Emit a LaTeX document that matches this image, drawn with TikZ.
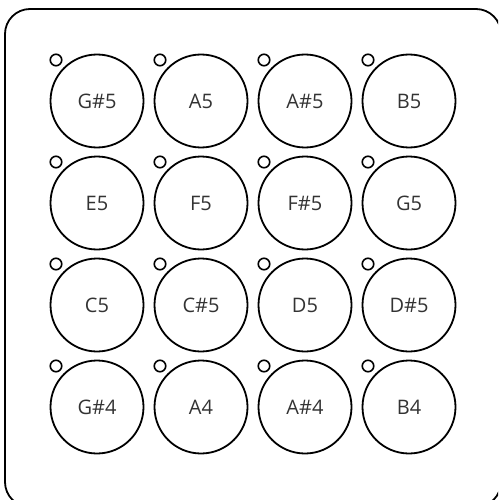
\documentclass[tikz,border=0pt]{standalone}
\usepackage{fontspec}
\setmainfont{Open Sans}
\definecolor{txt}{HTML}{333333}
\begin{document}
\begin{tikzpicture}[x=1pt,y=-1pt,
  pad/.style={circle,draw=black,line width=1.8pt,minimum size=93pt,inner sep=0pt,
    font=\fontsize{20}{24}\selectfont,text=txt},
  led/.style={circle,draw=black,line width=1.6pt,minimum size=11.5pt,inner sep=0pt}]
\useasboundingbox (0,0) rectangle (498,500);
\begin{scope}
\clip (0,0) rectangle (498,500);
\draw[line width=1.8pt,rounded corners=25pt] (5,9) rectangle (501,507);
\end{scope}
\foreach \lab [count=\i from 0] in {G\#5,A5,A\#5,B5,E5,F5,F\#5,G5,C5,C\#5,D5,D\#5,G\#4,A4,A\#4,B4}{
  \pgfmathtruncatemacro{\c}{mod(\i,4)}
  \pgfmathtruncatemacro{\r}{div(\i,4)}
  \pgfmathsetmacro{\px}{97+104*\c}
  \pgfmathsetmacro{\py}{101+102*\r}
  \node[pad] (p\i) at (\px,\py) {\lab};
  \node[led] (l\i) at (\px-41,\py-41) {};
}
\end{tikzpicture}
\end{document}
